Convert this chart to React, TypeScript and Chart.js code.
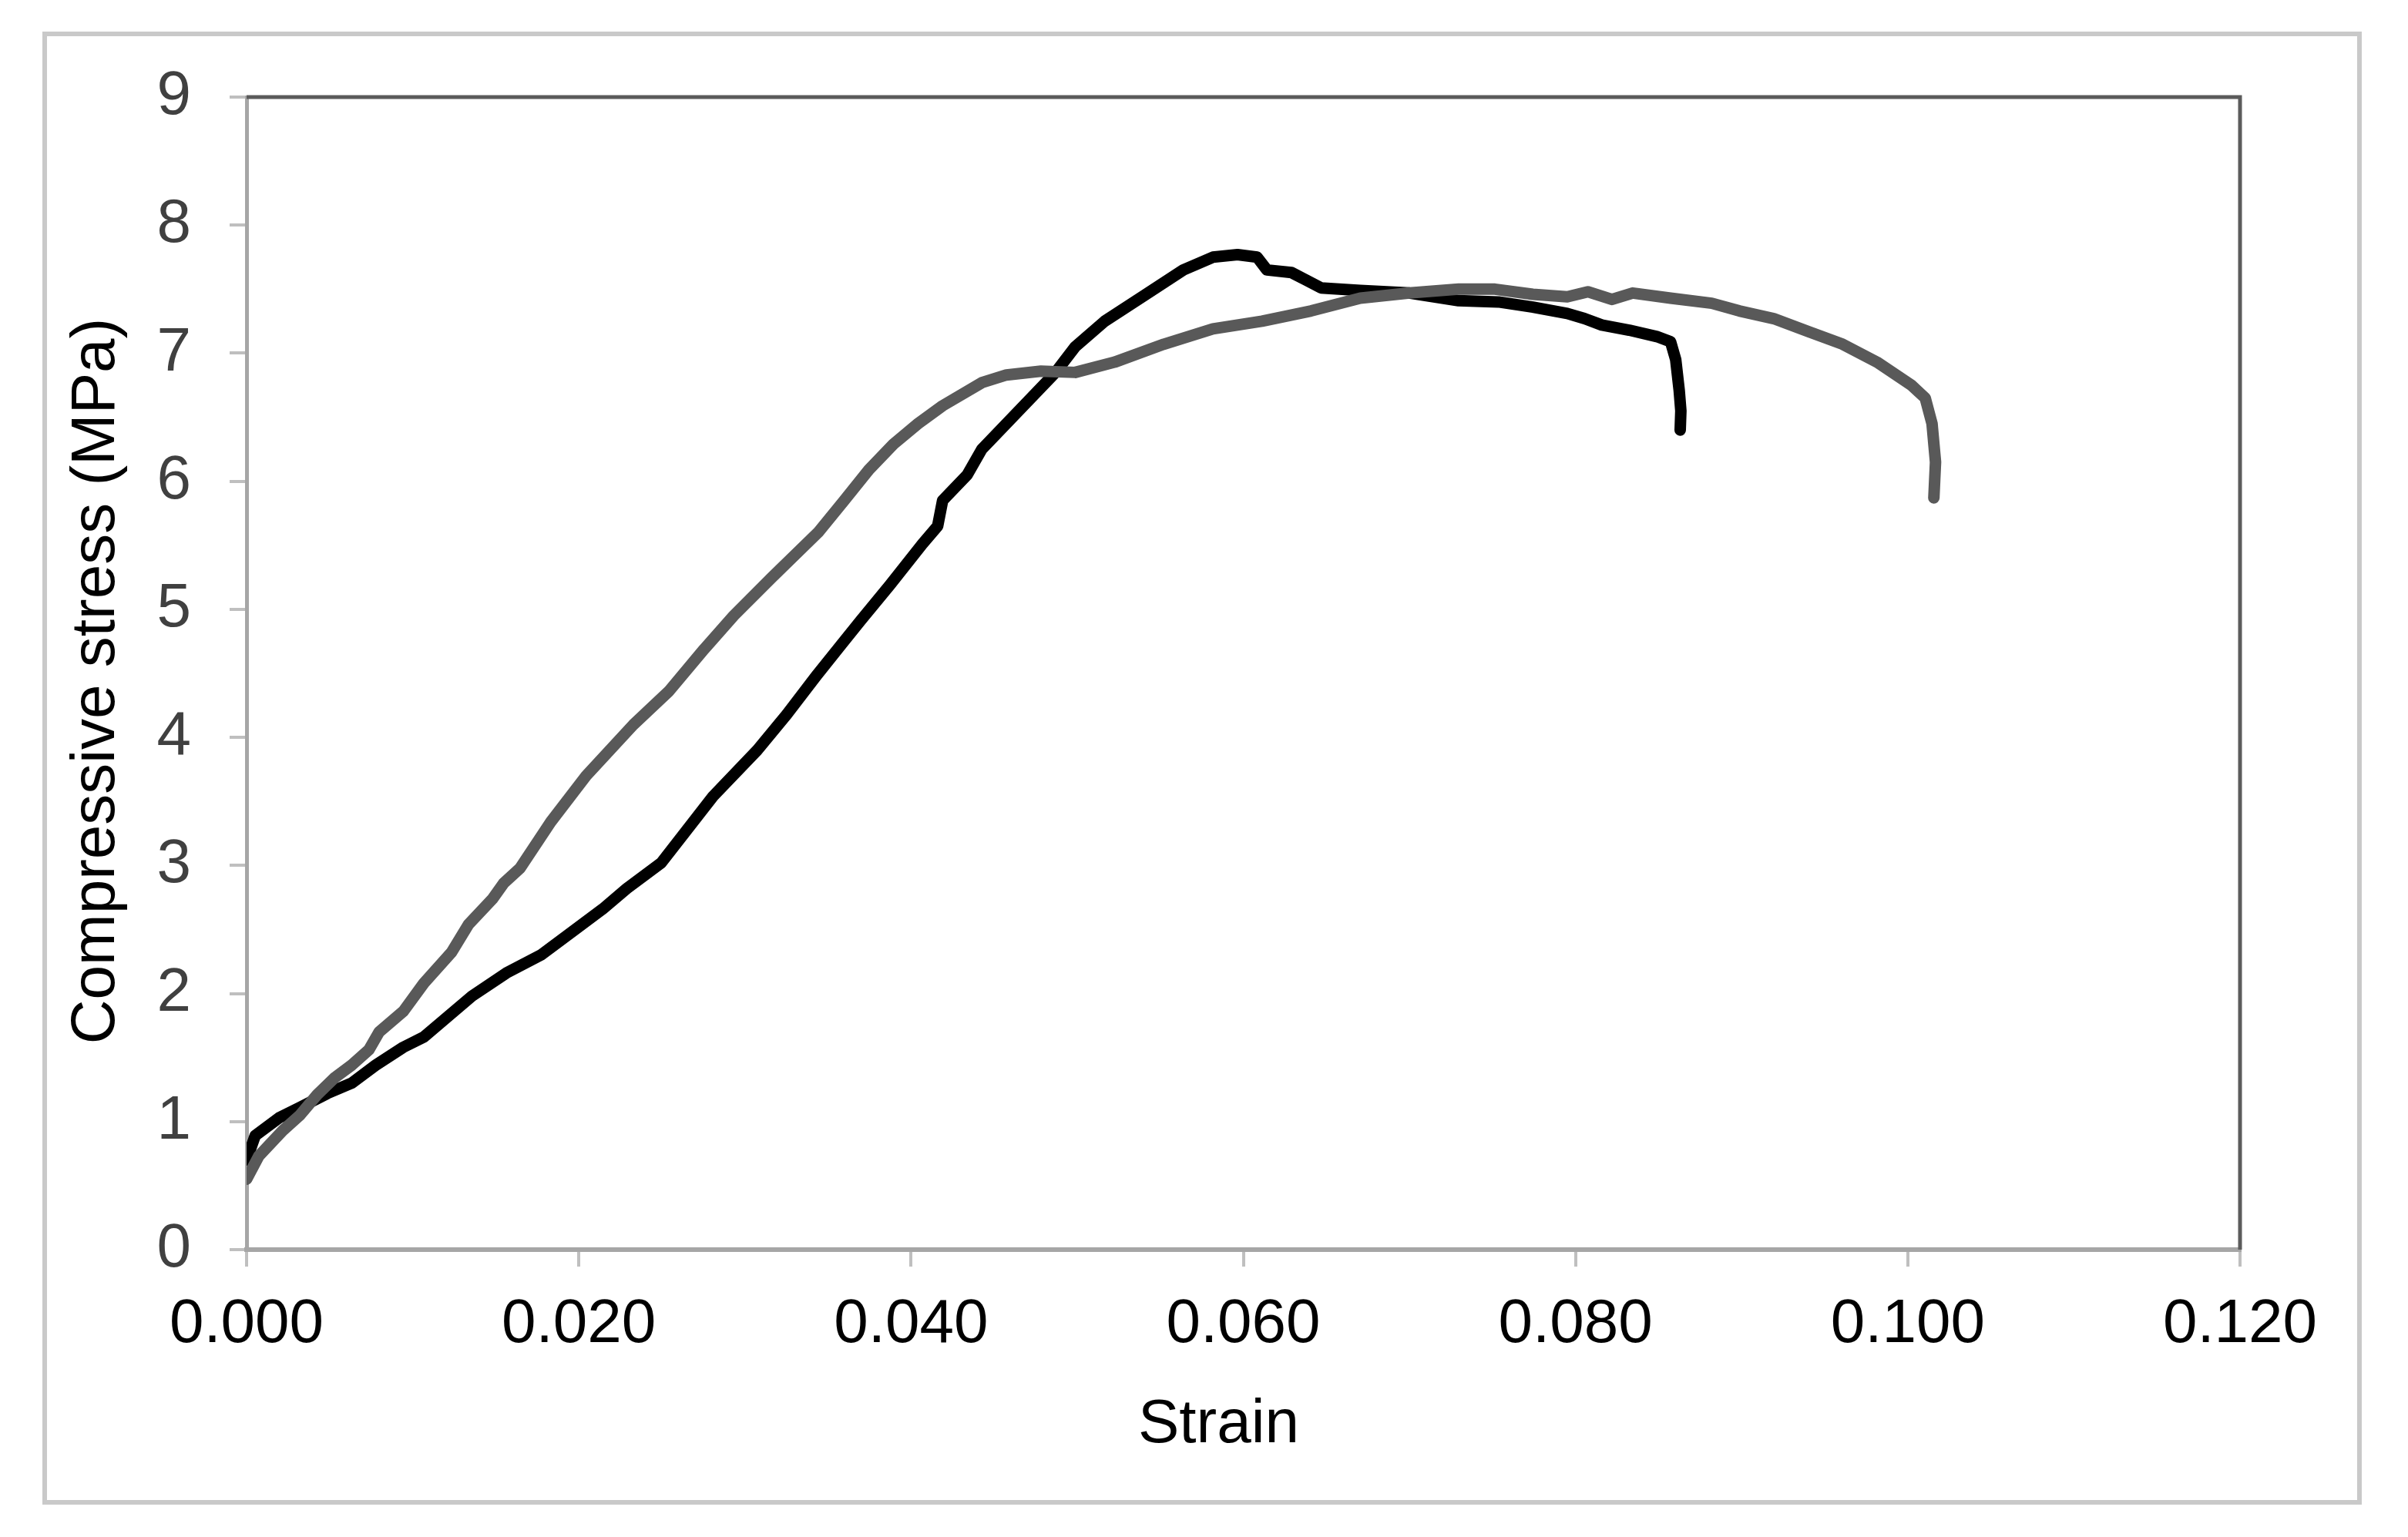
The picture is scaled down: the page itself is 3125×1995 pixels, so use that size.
import React, { useEffect, useRef } from "react";
import { Chart, registerables } from "chart.js";

Chart.register(...registerables);

// ---- data ----
const blackStrain = [
  0, 0.00052, 0.00197, 0.00321, 0.00487, 0.00632, 0.00777, 0.00943, 0.01067, 0.01357,
  0.01564, 0.01771, 0.01978, 0.02144, 0.02289, 0.02496, 0.02808, 0.03074, 0.03252, 0.03429,
  0.03571, 0.03695, 0.03873, 0.04068, 0.0416, 0.0419, 0.04338, 0.04426, 0.04574, 0.04722,
  0.0487, 0.04988, 0.05166, 0.05403, 0.05639, 0.05817, 0.05965, 0.06083, 0.06142, 0.0629,
  0.06379, 0.06468, 0.06704, 0.07, 0.07296, 0.07536, 0.07743, 0.0795, 0.08054, 0.08158,
  0.08323, 0.08489, 0.08572, 0.08603, 0.08624, 0.08634, 0.0863,
];
const blackStress = [
  0.7, 0.89, 1.03, 1.11, 1.22, 1.3, 1.44, 1.58, 1.66, 1.98,
  2.16, 2.3, 2.5, 2.66, 2.82, 3.02, 3.54, 3.9, 4.18, 4.48,
  4.71, 4.91, 5.19, 5.51, 5.65, 5.85, 6.05, 6.25, 6.45, 6.65,
  6.85, 7.05, 7.25, 7.45, 7.65, 7.75, 7.77, 7.75, 7.65, 7.63,
  7.57, 7.51, 7.49, 7.47, 7.41, 7.4, 7.36, 7.31, 7.27, 7.22,
  7.18, 7.13, 7.09, 6.95, 6.71, 6.55, 6.4,
];
const grayStrain = [
  0, 0.00073, 0.00218, 0.00321, 0.00425, 0.00528, 0.00632, 0.00736, 0.00798, 0.00943,
  0.01067, 0.01233, 0.01336, 0.01481, 0.01547, 0.01647, 0.01831, 0.02044, 0.02329, 0.02542,
  0.02755, 0.02932, 0.03163, 0.0344, 0.03598, 0.03746, 0.03894, 0.04042, 0.0419, 0.04426,
  0.04574, 0.04782, 0.04988, 0.05225, 0.05521, 0.05817, 0.06113, 0.06408, 0.06704, 0.07,
  0.07296, 0.07515, 0.07743, 0.0795, 0.08074, 0.08219, 0.08344, 0.08572, 0.0882, 0.08986,
  0.09193, 0.094, 0.09608, 0.09815, 0.10022, 0.10105, 0.10146, 0.10167, 0.10157,
];
const grayStress = [
  0.55, 0.73, 0.93, 1.05, 1.21, 1.34, 1.44, 1.56, 1.7, 1.86,
  2.08, 2.32, 2.54, 2.74, 2.86, 2.98, 3.34, 3.7, 4.1, 4.36,
  4.69, 4.95, 5.25, 5.6, 5.85, 6.09, 6.29, 6.45, 6.59, 6.77,
  6.83, 6.86, 6.85, 6.93, 7.07, 7.19, 7.25, 7.33, 7.43, 7.47,
  7.5, 7.5, 7.46, 7.44, 7.48, 7.42, 7.47, 7.43, 7.39, 7.33,
  7.27, 7.17, 7.07, 6.93, 6.75, 6.65, 6.45, 6.15, 5.87,
];

const xTickLabels = ["0.000", "0.020", "0.040", "0.060", "0.080", "0.100", "0.120"];
const yTickLabels = ["0", "1", "2", "3", "4", "5", "6", "7", "8", "9"];
const xAxisTitle = "Strain";
const yAxisTitle = "Compressive stress (MPa)";

const FONT = "'Liberation Sans', Arial, Helvetica, sans-serif";

const framePlugin = {
  id: "frame",
  beforeDraw(chart: any) {
    const { ctx, width, height } = chart;
    ctx.save();
    ctx.fillStyle = "#ffffff";
    ctx.fillRect(0, 0, width, height);
    ctx.restore();
  },
  afterDraw(chart: any) {
    const { ctx } = chart;
    const { left, right, top, bottom } = chart.chartArea;
    ctx.save();
    // outer frame
    ctx.strokeStyle = "#c9c9c9";
    ctx.lineWidth = 6;
    ctx.strokeRect(58, 44, 3004, 1906);
    // top and right plot border
    ctx.strokeStyle = "#5b5b5b";
    ctx.lineWidth = 5;
    ctx.lineCap = "butt";
    ctx.beginPath();
    ctx.moveTo(left, top);
    ctx.lineTo(right, top);
    ctx.lineTo(right, bottom);
    ctx.stroke();
    // axis titles
    ctx.fillStyle = "#000000";
    ctx.font = `80px ${FONT}`;
    ctx.textAlign = "center";
    ctx.textBaseline = "alphabetic";
    ctx.fillText(xAxisTitle, (left + right) / 2 - 32, 1872);
    ctx.translate(148, (top + bottom) / 2 + 10);
    ctx.rotate(-Math.PI / 2);
    ctx.fillText(yAxisTitle, 0, 0);
    ctx.restore();
  },
};

export default function App() {
  const ref = useRef<HTMLCanvasElement | null>(null);

  useEffect(() => {
    if (!ref.current) return;
    const blackData = blackStrain.map((x, i) => ({ x, y: blackStress[i] }));
    const grayData = grayStrain.map((x, i) => ({ x, y: grayStress[i] }));
    const chart = new Chart(ref.current, {
      type: "line",
      data: {
        datasets: [
          {
            label: "Specimen 1",
            data: grayData,
            borderColor: "#595959",
            backgroundColor: "#595959",
            borderWidth: 15,
            pointRadius: 0,
            tension: 0,
            borderCapStyle: "round",
            borderJoinStyle: "round",
          },
          {
            label: "Specimen 2",
            data: blackData,
            borderColor: "#000000",
            backgroundColor: "#000000",
            borderWidth: 15,
            pointRadius: 0,
            tension: 0,
            borderCapStyle: "round",
            borderJoinStyle: "round",
          },
        ],
      },
      options: {
        responsive: false,
        animation: false,
        devicePixelRatio: 1,
        layout: { padding: { left: 0, top: 126, right: 218, bottom: 0 } },
        plugins: {
          legend: { display: false },
          tooltip: { enabled: false },
          title: { display: false },
        },
        scales: {
          x: {
            type: "linear",
            min: 0,
            max: 0.12,
            afterFit: (s: any) => {
              s.height = 373;
            },
            border: { display: true, color: "#a6a6a6", width: 6 },
            grid: {
              drawOnChartArea: false,
              drawTicks: true,
              tickLength: 22,
              color: "#bfbfbf",
              lineWidth: 4,
            },
            ticks: {
              stepSize: 0.02,
              autoSkip: false,
              maxRotation: 0,
              padding: 28,
              color: "#000000",
              font: { family: FONT, size: 80 },
              callback: (_v: any, i: number) => xTickLabels[i],
            },
          },
          y: {
            type: "linear",
            min: 0,
            max: 9,
            afterFit: (s: any) => {
              s.width = 320;
            },
            border: { display: true, color: "#a6a6a6", width: 5 },
            grid: {
              drawOnChartArea: false,
              drawTicks: true,
              tickLength: 22,
              color: "#bfbfbf",
              lineWidth: 4,
            },
            ticks: {
              stepSize: 1,
              autoSkip: false,
              padding: 50,
              color: "#404040",
              font: { family: FONT, size: 80 },
              callback: (_v: any, i: number) => yTickLabels[i],
            },
          },
        },
      },
      plugins: [framePlugin],
    });
    return () => chart.destroy();
  }, []);

  return (
    <div style={{ position: "absolute", left: 0, top: 0, width: 3125, height: 1995, background: "#fff" }}>
      <canvas ref={ref} width={3125} height={1995} style={{ display: "block", width: 3125, height: 1995 }} />
    </div>
  );
}
